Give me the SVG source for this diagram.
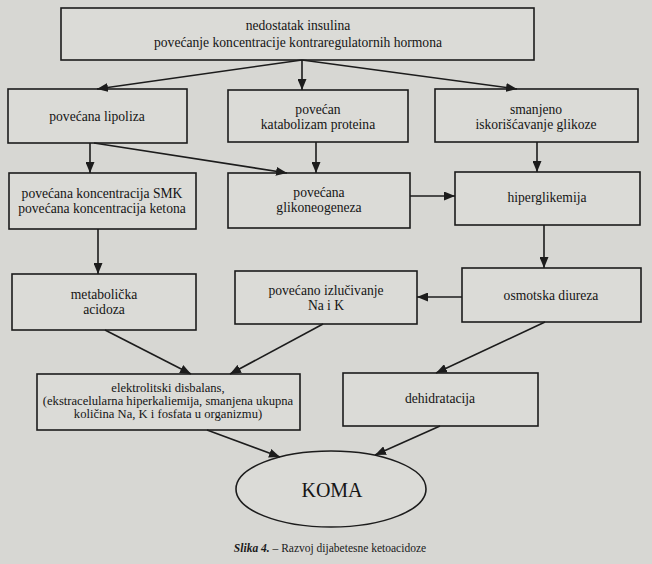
<svg xmlns="http://www.w3.org/2000/svg" width="652" height="564" viewBox="0 0 652 564">
<style>
.bg{fill:#d7d7d3}
.box{fill:#dbdbd7;stroke:#1c1c1c;stroke-width:1.6}
.t{font-family:"Liberation Serif","Times New Roman",serif;font-size:13.6px;fill:#151515;text-anchor:middle}
.sm{font-size:12.6px}
.koma{font-size:20px}
.cap{font-family:"Liberation Serif","Times New Roman",serif;font-size:11.5px;fill:#1a1a1a;text-anchor:middle}
.c line{stroke:#1c1c1c;stroke-width:1.6;marker-end:url(#ah)}
</style>
<defs>
<marker id="ah" markerUnits="userSpaceOnUse" markerWidth="11" markerHeight="9" refX="11" refY="4.5" orient="auto">
<path d="M0,0 L11,4.5 L0,9 z" fill="#1c1c1c"/>
</marker>
</defs>
<rect class="bg" x="0" y="0" width="652" height="564"/>

<g id="n-top">
<rect class="box" x="61" y="8" width="473" height="52"/>
<text class="t" x="298" y="30">nedostatak insulina</text>
<text class="t" x="298" y="47">povećanje koncentracije kontraregulatornih hormona</text>
</g>
<g id="n-lipoliza">
<rect class="box" x="8" y="89" width="179" height="54"/>
<text class="t" x="97" y="121">povećana lipoliza</text>
</g>
<g id="n-katabolizam">
<rect class="box" x="228" y="90" width="180" height="52"/>
<text class="t" x="318" y="114">povećan</text>
<text class="t" x="318" y="129">katabolizam proteina</text>
</g>
<g id="n-smanjeno">
<rect class="box" x="435" y="89" width="203" height="53"/>
<text class="t" x="536" y="114">smanjeno</text>
<text class="t" x="536" y="129">iskorišćavanje glikoze</text>
</g>
<g id="n-smk">
<rect class="box" x="9" y="173" width="187" height="56"/>
<text class="t" x="102" y="198">povećana koncentracija SMK</text>
<text class="t" x="102" y="213">povećana koncentracija ketona</text>
</g>
<g id="n-glikoneogeneza">
<rect class="box" x="228" y="173" width="182" height="55"/>
<text class="t" x="319" y="197">povećana</text>
<text class="t" x="319" y="212">glikoneogeneza</text>
</g>
<g id="n-hiperglikemija">
<rect class="box" x="455" y="172" width="185" height="53"/>
<text class="t" x="547" y="202">hiperglikemija</text>
</g>
<g id="n-metabolicka">
<rect class="box" x="12" y="274" width="184" height="56"/>
<text class="t" x="104" y="299">metabolička</text>
<text class="t" x="104" y="314">acidoza</text>
</g>
<g id="n-izlucivanje">
<rect class="box" x="235" y="271" width="182" height="53"/>
<text class="t" x="326" y="295">povećano izlučivanje</text>
<text class="t" x="326" y="310">Na i K</text>
</g>
<g id="n-osmotska">
<rect class="box" x="462" y="268" width="179" height="54"/>
<text class="t" x="551" y="300">osmotska diureza</text>
</g>
<g id="n-elektrolitski">
<rect class="box" x="37" y="374" width="263" height="56"/>
<text class="t sm" x="168" y="392">elektrolitski disbalans,</text>
<text class="t sm" x="168" y="405">(ekstracelularna hiperkaliemija, smanjena ukupna</text>
<text class="t sm" x="168" y="418">količina Na, K i fosfata u organizmu)</text>
</g>
<g id="n-dehidratacija">
<rect class="box" x="343" y="373" width="195" height="53"/>
<text class="t" x="440" y="403">dehidratacija</text>
</g>
<g id="n-koma">
<ellipse class="box" cx="331" cy="489" rx="95" ry="38"/>
<text class="t koma" x="332" y="497">KOMA</text>
</g>

<g id="connectors" class="c">
<line x1="302" y1="60" x2="97" y2="89"/>
<line x1="302" y1="60" x2="302" y2="90"/>
<line x1="302" y1="60" x2="517" y2="89"/>
<line x1="90" y1="143" x2="90" y2="173"/>
<line x1="94" y1="143" x2="287" y2="173"/>
<line x1="316" y1="142" x2="316" y2="173"/>
<line x1="537" y1="142" x2="537" y2="172"/>
<line x1="410" y1="196" x2="455" y2="196"/>
<line x1="544" y1="225" x2="544" y2="268"/>
<line x1="98" y1="229" x2="98" y2="274"/>
<line x1="462" y1="297" x2="417" y2="297"/>
<line x1="105" y1="330" x2="191" y2="374"/>
<line x1="323" y1="324" x2="230" y2="374"/>
<line x1="545" y1="322" x2="436" y2="373"/>
<line x1="207" y1="430" x2="280" y2="457"/>
<line x1="440" y1="426" x2="375" y2="455"/>
</g>

<text class="cap" x="330" y="552"><tspan font-weight="bold" font-style="italic">Slika 4.</tspan> – Razvoj dijabetesne ketoacidoze</text>
</svg>
